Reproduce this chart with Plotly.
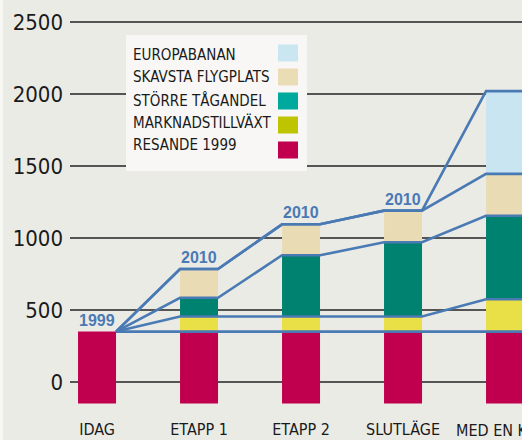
import plotly.graph_objects as go

# ---------------- data ----------------
CATEGORIES = ["IDAG", "ETAPP 1", "ETAPP 2", "SLUTLÄGE", "MED EN K"]
RESANDE_1999 = [350, 350, 350, 350, 350]
MARKNADSTILLVAXT = [0, 105, 105, 105, 225]
STORRE_TAGANDEL = [0, 130, 425, 515, 580]
SKAVSTA_FLYGPLATS = [0, 200, 215, 220, 290]
EUROPABANAN = [0, 0, 0, 0, 575]
YEAR_LABELS = ["1999", "2010", "2010", "2010", ""]
Y_TICKS = [0, 500, 1000, 1500, 2000, 2500]
LEGEND_NAMES = ["EUROPABANAN", "SKAVSTA FLYGPLATS", "STÖRRE TÅGANDEL",
                "MARKNADSTILLVÄXT", "RESANDE 1999"]

# ---------------- style ----------------
W, H = 522, 440
BG = "#ebebe6"
LINE_BLUE = "#4a7ab4"
BAR_COLORS = ["#c0004e", "#e9df47", "#008270", "#e9dbb4", "#c9e5f1"]
SWATCH_COLORS = ["#c9e6f1", "#eadcb5", "#00a99d", "#bec400", "#c0004e"]
BASELINE = -150
BAR_W = 0.3725
FONT = "DejaVu Sans Condensed, Liberation Sans Narrow, sans-serif"

PLOT_L, PLOT_B = 70, 404
X_RANGE = [-0.265, -0.265 + (W - PLOT_L) / 102.0]
Y_RANGE = [-152.8, 2652.8]

layers = [RESANDE_1999, MARKNADSTILLVAXT, STORRE_TAGANDEL, SKAVSTA_FLYGPLATS, EUROPABANAN]
idx = list(range(len(CATEGORIES)))

fig = go.Figure()

# bars
cum = [0] * len(idx)
cums = []
for k, seg in enumerate(layers):
    if k == 0:
        base = [BASELINE] * len(idx)
        heights = [v - BASELINE for v in seg]
    else:
        base = list(cum)
        heights = list(seg)
    fig.add_trace(go.Bar(x=idx, y=heights, base=base, width=BAR_W,
                         marker=dict(color=BAR_COLORS[k], line=dict(width=0)),
                         showlegend=False, hoverinfo="skip"))
    cum = [c + s for c, s in zip(cum, seg)]
    cums.append(list(cum))

# connecting level lines
hw = BAR_W / 2
for level in cums:
    xs = [0 + hw]
    ys = [level[0]]
    for i in idx[1:]:
        xs += [i - hw, i + hw]
        ys += [level[i], level[i]]
    fig.add_trace(go.Scatter(x=xs, y=ys, mode="lines",
                             line=dict(color=LINE_BLUE, width=2.6),
                             showlegend=False, hoverinfo="skip"))

annotations = []
# year labels over bars
totals = cums[-1]
for i, lab in enumerate(YEAR_LABELS):
    if lab:
        annotations.append(dict(x=i, y=totals[i], xref="x", yref="y", text=lab,
                                showarrow=False, yanchor="bottom", xanchor="center",
                                yshift=1,
                                font=dict(family="Liberation Sans, Arial, sans-serif",
                                          size=16, color=LINE_BLUE, weight="bold")))

# last category label (cut by right edge)
annotations.append(dict(x=454 / W, y=1 - 430 / H, xref="paper", yref="paper",
                        text=CATEGORIES[-1], showarrow=False, xanchor="left",
                        yanchor="middle", yshift=0,
                        font=dict(family=FONT, size=16, color="#1a1a1a")))

shapes = [
    dict(type="rect", xref="paper", yref="paper", x0=0, x1=3 / W, y0=0, y1=1,
         fillcolor="#f7f7f4", line=dict(width=0), layer="below"),
    dict(type="rect", xref="paper", yref="paper", x0=126 / W, x1=307 / W,
         y0=1 - 171 / H, y1=1 - 35 / H, fillcolor="#f8f7f5", line=dict(width=0),
         layer="above"),
]

# legend
text_y = [55, 77, 100, 122, 145]
sw_y = [53, 77, 101, 125, 150]
for name, ty, sy, col in zip(LEGEND_NAMES, text_y, sw_y, SWATCH_COLORS):
    annotations.append(dict(x=131 / W, y=1 - ty / H, xref="paper", yref="paper",
                            text=name, showarrow=False, xanchor="left", yanchor="middle",
                            font=dict(family=FONT, size=15, color="#1a1a1a")))
    shapes.append(dict(type="rect", xref="paper", yref="paper",
                       x0=278 / W, x1=298 / W, y0=1 - (sy + 8.5) / H, y1=1 - (sy - 8.5) / H,
                       fillcolor=col, line=dict(width=0), layer="above"))

fig.update_layout(
    width=W, height=H,
    margin=dict(l=0, r=0, t=0, b=0),
    paper_bgcolor=BG, plot_bgcolor=BG,
    barmode="overlay",
    showlegend=False,
    annotations=annotations,
    shapes=shapes,
    xaxis=dict(domain=[PLOT_L / W, 1], range=X_RANGE, showgrid=False, zeroline=False,
               showline=False, tickmode="array", tickvals=idx[:-1],
               ticktext=CATEGORIES[:-1], ticks="", ticklabelstandoff=14,
               tickfont=dict(family=FONT, size=16, color="#1a1a1a"), fixedrange=True),
    yaxis=dict(domain=[1 - PLOT_B / H, 1], range=Y_RANGE, showgrid=True,
               gridcolor="#555555", gridwidth=2, zeroline=False, showline=False,
               tickmode="array", tickvals=Y_TICKS, ticks="", ticklabelstandoff=6,
               tickfont=dict(family=FONT, size=22, color="#1a1a1a"), fixedrange=True),
)

fig.write_html("out.html", config={"displayModeBar": False},
               post_script="document.body.style.margin='0';document.body.style.background='%s';" % BG)
